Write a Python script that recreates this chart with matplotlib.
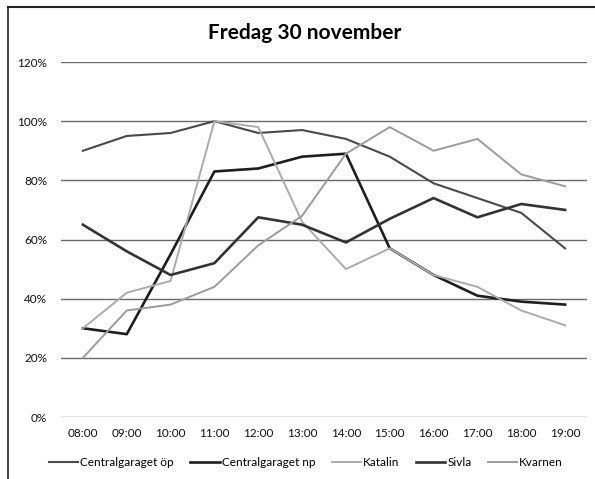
import matplotlib.pyplot as plt
import numpy as np

plt.rcParams["font.family"] = ["Lato", "DejaVu Sans"]

hours = ["08:00", "09:00", "10:00", "11:00", "12:00", "13:00",
         "14:00", "15:00", "16:00", "17:00", "18:00", "19:00"]

central_op = [90, 95, 96, 100, 96, 97, 94, 88, 79, 74, 69, 57]
central_np = [30, 28, 55, 83, 84, 88, 89, 57, 48, 41, 39, 38]
katalin = [30, 42, 46, 100, 98, 66, 50, 57, 48, 44, 36, 31]
sivla = [65, 56, 48, 52, 67.5, 65, 59, 67, 74, 67.5, 72, 70]
kvarnen = [20, 36, 38, 44, 58, 68, 89, 98, 90, 94, 82, 78]

series = [
    ("Centralgaraget öp", central_op, "#4a4a4a", 1.5),
    ("Centralgaraget np", central_np, "#1e1e1e", 1.9),
    ("Katalin", katalin, "#ababab", 1.4),
    ("Sivla", sivla, "#333333", 1.9),
    ("Kvarnen", kvarnen, "#9c9c9c", 1.4),
]

fig = plt.figure(figsize=(5.95, 4.79), dpi=100)
ax = fig.add_axes([61 / 595, 1 - 417 / 479, 526 / 595, 355 / 479])

x = np.arange(len(hours))
for name, vals, color, lw in series:
    ax.plot(x, vals, color=color, lw=lw, label=name)

ax.set_xlim(-0.5, len(hours) - 0.5)
ax.set_ylim(0, 120)
ax.set_yticks(range(0, 121, 20))
ax.set_yticklabels([f"{v}%" for v in range(0, 121, 20)])
ax.set_xticks(x)
ax.set_xticklabels(hours)
ax.yaxis.grid(True, color="#6a6a6a", lw=1)
ax.set_axisbelow(True)
for s in ax.spines.values():
    s.set_visible(False)
ax.tick_params(length=0, labelsize=8.5, colors="#111111")
ax.tick_params(axis="x", pad=8)
ax.tick_params(axis="y", pad=10)

fig.text(305 / 595, 1 - 33 / 479, "Fredag 30 november", ha="center", va="center",
         fontsize=15, fontweight="bold")

fig.legend(loc="center", bbox_to_anchor=(306 / 595, 1 - 463 / 479), ncol=5,
           frameon=False, fontsize=8.5, handlelength=2.5, handletextpad=0.15,
           columnspacing=1.4)

# outer frame (top and left edges only)
fig.add_artist(plt.Line2D([8 / 595, 8 / 595], [0, 1 - 7 / 479], color="#222222", lw=1.2))
fig.add_artist(plt.Line2D([8 / 595, 1], [1 - 7 / 479, 1 - 7 / 479], color="#222222", lw=1.5))

fig.savefig("out.png", dpi=100)
